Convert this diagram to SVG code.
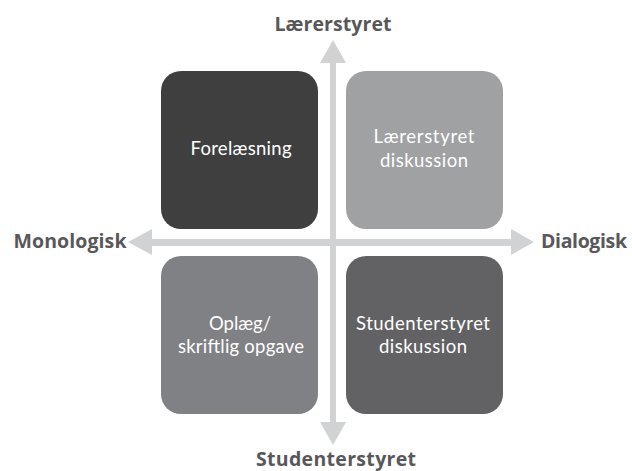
<svg xmlns="http://www.w3.org/2000/svg" width="632" height="471" viewBox="0 0 632 471">
<defs>
<style>
.box text{font-family:Lato,"Open Sans","Liberation Sans",sans-serif;font-size:18.5px;fill:#ffffff;text-anchor:middle}
.ax{font-family:"Open Sans",Lato,"Liberation Sans",sans-serif;font-size:19.5px;font-weight:bold;fill:#58585a;text-anchor:middle}
.arr{fill:#d1d2d4}
</style>
</defs>
<rect width="632" height="471" fill="#ffffff"/>
<g id="connectors">
<rect class="arr" x="330" y="60" width="6" height="366"/>
<polygon class="arr" points="333,40 346,63 320,63"/>
<polygon class="arr" points="333,445 346,422 320,422"/>
<rect class="arr" x="148" y="239" width="368" height="7"/>
<polygon class="arr" points="128,242 152,229 152,255"/>
<polygon class="arr" points="534,242 511,229 511,255"/>
</g>
<g id="node-forelaesning" class="box">
<rect x="161" y="71" width="157" height="158" rx="20" fill="#3f3f40"/>
<text x="241" y="155" textLength="101">Forelæsning</text>
</g>
<g id="node-laererstyret-diskussion" class="box">
<rect x="346" y="71" width="157" height="158" rx="20" fill="#a0a1a3"/>
<text x="424" y="143" textLength="101" fill="#f4f4f4">Lærerstyret</text>
<text x="424" y="167" textLength="88" fill="#f4f4f4">diskussion</text>
</g>
<g id="node-oplaeg" class="box">
<rect x="161" y="256" width="157" height="158" rx="20" fill="#808184"/>
<text x="240" y="330" textLength="62">Oplæg/</text>
<text x="241" y="353" textLength="126">skriftlig opgave</text>
</g>
<g id="node-studenterstyret-diskussion" class="box">
<rect x="346" y="256" width="157" height="158" rx="20" fill="#626264"/>
<text x="423" y="330" textLength="134">Studenterstyret</text>
<text x="423" y="353" textLength="88">diskussion</text>
</g>
<g id="labels">
<text class="ax" x="333" y="31" textLength="117">Lærerstyret</text>
<text class="ax" x="336" y="466" textLength="160">Studenterstyret</text>
<text class="ax" x="70" y="248" textLength="113">Monologisk</text>
<text class="ax" x="584" y="248" textLength="86">Dialogisk</text>
</g>
</svg>
